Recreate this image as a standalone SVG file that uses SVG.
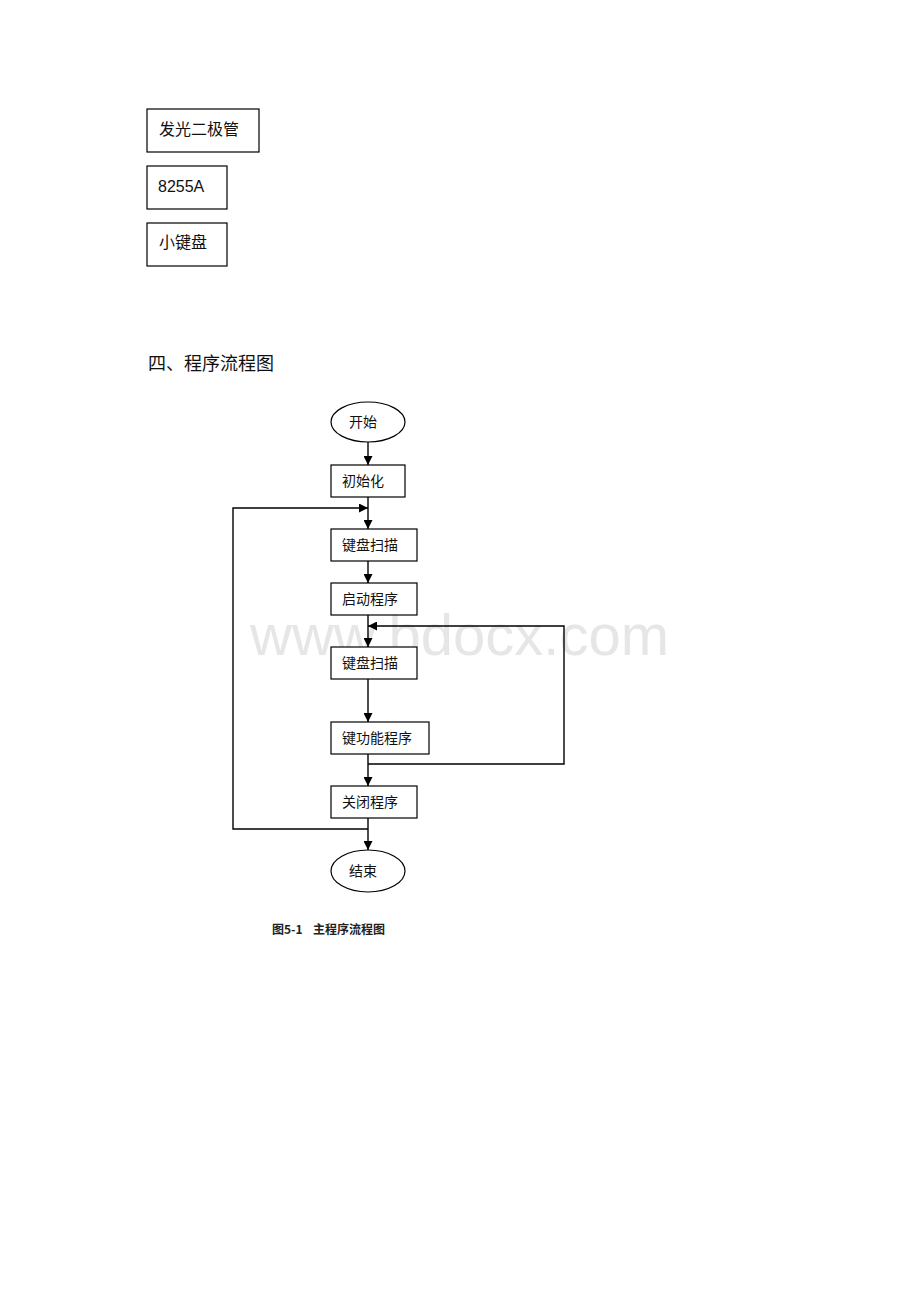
<svg xmlns="http://www.w3.org/2000/svg" width="920" height="1302" viewBox="0 0 920 1302">
<style>
.bx{fill:#fff;stroke:#000;stroke-width:1.2}
.t{font-family:"Noto Sans CJK SC","Liberation Serif",serif;font-size:14px;fill:#111}
.h{font-family:"Noto Sans CJK SC",sans-serif;font-size:16px;fill:#111}
.ln{fill:none;stroke:#000;stroke-width:1.4}
.cap{font-family:"Noto Sans CJK SC",sans-serif;font-size:12px;font-weight:bold;fill:#222}
</style>
<defs>
<marker id="ah" viewBox="0 0 10 10" refX="10" refY="5" markerWidth="10" markerHeight="9" orient="auto" markerUnits="userSpaceOnUse">
<path d="M0,0 L10,5 L0,10 z" fill="#000"/>
</marker>
</defs>
<rect width="920" height="1302" fill="#fff"/>
<text x="250" y="655" font-family="Liberation Sans,sans-serif" font-size="58" fill="#e6e6e6">www.bdocx.com</text>

<g id="part1"><rect class="bx" x="147" y="109" width="112" height="43"/><text class="h" x="159" y="135">发光二极管</text></g>
<g id="part2"><rect class="bx" x="147" y="166" width="80" height="43"/><text x="158" y="192" font-family="Liberation Sans,sans-serif" font-size="16" fill="#111">8255A</text></g>
<g id="part3"><rect class="bx" x="147" y="223" width="80" height="43"/><text class="h" x="159" y="248">小键盘</text></g>

<text x="148" y="370" font-family="Noto Sans CJK SC,sans-serif" font-size="18" fill="#111">四、程序流程图</text>

<g id="connectors">
<line class="ln" x1="368" y1="442" x2="368" y2="465" marker-end="url(#ah)"/>
<line class="ln" x1="368" y1="497" x2="368" y2="529" marker-end="url(#ah)"/>
<polyline class="ln" points="368,829 233,829 233,508 368,508" marker-end="url(#ah)"/>
<line class="ln" x1="368" y1="561" x2="368" y2="583" marker-end="url(#ah)"/>
<line class="ln" x1="368" y1="615" x2="368" y2="647" marker-end="url(#ah)"/>
<polyline class="ln" points="368,764 564,764 564,626 368,626" marker-end="url(#ah)"/>
<line class="ln" x1="368" y1="679" x2="368" y2="722" marker-end="url(#ah)"/>
<line class="ln" x1="368" y1="754" x2="368" y2="786" marker-end="url(#ah)"/>
<line class="ln" x1="368" y1="818" x2="368" y2="850" marker-end="url(#ah)"/>
</g>

<g id="start"><ellipse class="bx" cx="368" cy="422" rx="37" ry="20"/><text class="t" x="349" y="427">开始</text></g>
<g id="init"><rect class="bx" x="331" y="465" width="74" height="32"/><text class="t" x="342" y="486">初始化</text></g>
<g id="scan1"><rect class="bx" x="331" y="529" width="86" height="32"/><text class="t" x="342" y="550">键盘扫描</text></g>
<g id="launch"><rect class="bx" x="331" y="583" width="86" height="32"/><text class="t" x="342" y="604">启动程序</text></g>
<g id="scan2"><rect class="bx" x="331" y="647" width="86" height="32"/><text class="t" x="342" y="668">键盘扫描</text></g>
<g id="func"><rect class="bx" x="331" y="722" width="98" height="32"/><text class="t" x="342" y="743">键功能程序</text></g>
<g id="close"><rect class="bx" x="331" y="786" width="86" height="32"/><text class="t" x="342" y="807">关闭程序</text></g>
<g id="end"><ellipse class="bx" cx="368" cy="871" rx="37" ry="21"/><text class="t" x="349" y="876">结束</text></g>

<text class="cap" x="272" y="934">图5-1</text>
<text class="cap" x="313" y="934">主程序流程图</text>
</svg>
